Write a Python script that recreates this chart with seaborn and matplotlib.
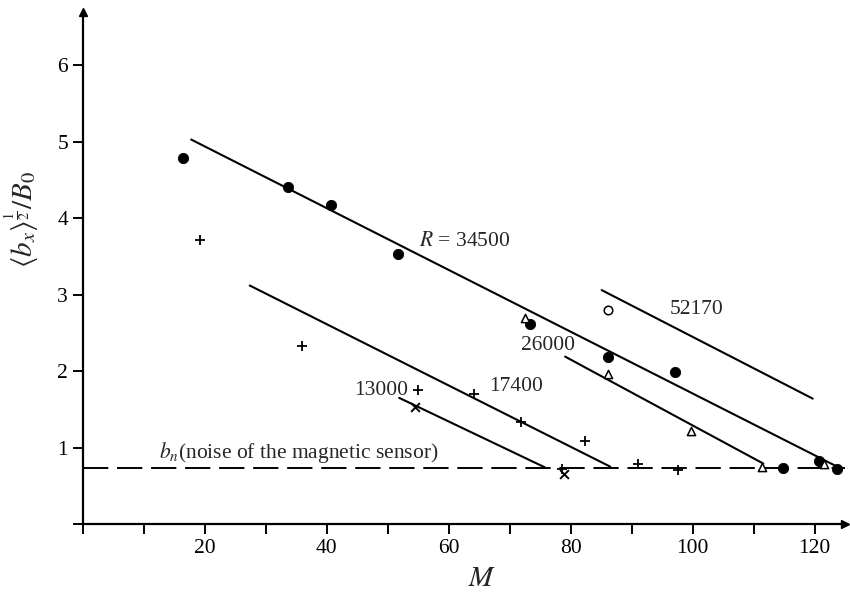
import numpy as np
import pandas as pd
import matplotlib
matplotlib.use("Agg")
import matplotlib.pyplot as plt
import seaborn as sns

# ==========================================
# Data
# ==========================================

# R = 34500 (filled circles)
m_34500 = [16.4, 33.7, 40.7, 51.7, 73.4, 86.2, 97.1, 114.8, 120.8, 123.6]
b_34500 = [4.79, 4.41, 4.18, 3.53, 2.61, 2.19, 1.99, 0.73, 0.82, 0.72]

# R = 17400 (plus signs)
m_17400 = [19.3, 35.9, 55.0, 64.1, 71.9, 82.3, 91.1, 97.6, 78.6]
b_17400 = [3.71, 2.33, 1.75, 1.70, 1.33, 1.09, 0.79, 0.71, 0.72]

# R = 13000 (crosses)
m_13000 = [54.5, 78.9]
b_13000 = [1.53, 0.66]

# R = 26000 (open triangles)
m_26000 = [72.6, 86.1, 99.8, 111.4, 121.5]
b_26000 = [2.70, 1.96, 1.22, 0.75, 0.79]

# R = 52170 (open circle)
m_52170 = [86.1]
b_52170 = [2.80]

# fitted lines (start, end)
fit_labels = ["34500", "17400", "13000", "26000", "52170"]
fit_m = [[17.8, 123.7], [27.4, 86.5], [51.9, 75.8], [79.1, 111.6], [85.1, 119.7]]
fit_b = [[5.03, 0.75], [3.12, 0.75], [1.65, 0.74], [2.19, 0.79], [3.06, 1.64]]

noise_level = 0.73

# ==========================================
# Style
# ==========================================

sns.set_style("ticks")
plt.rcParams["font.family"] = ["Liberation Serif", "DejaVu Serif"]
plt.rcParams["mathtext.fontset"] = "stix"

fig = plt.figure(figsize=(8.5, 5.92), dpi=100)
ax = fig.add_axes([0.0972, 0.1149, 0.897, 0.865])

# ==========================================
# Fitted lines
# ==========================================

for label, xs, ys in zip(fit_labels, fit_m, fit_b):
    line_df = pd.DataFrame({"M": xs, "b": ys})
    sns.lineplot(data=line_df, x="M", y="b", ax=ax, color="black",
                 linewidth=1.5, estimator=None, sort=False)

# noise level
ax.axhline(noise_level, color="black", linewidth=1.4,
           linestyle=(0, (13, 4.5)), clip_on=False)

# ==========================================
# Markers
# ==========================================

sns.scatterplot(x=m_34500, y=b_34500, ax=ax, marker="o", color="black",
                s=55, edgecolor="black", zorder=5)
sns.scatterplot(x=m_17400, y=b_17400, ax=ax, marker="+", color="black",
                s=45, linewidth=1.3, zorder=5)
sns.scatterplot(x=m_13000, y=b_13000, ax=ax, marker="x", color="black",
                s=40, linewidth=1.4, zorder=5)
sns.scatterplot(x=m_26000, y=b_26000, ax=ax, marker="^", facecolor="white",
                edgecolor="black", s=35, linewidth=1.1, zorder=5)
sns.scatterplot(x=m_52170, y=b_52170, ax=ax, marker="o", facecolor="white",
                edgecolor="black", s=38, linewidth=1.1, zorder=5)

# ==========================================
# Annotations
# ==========================================

ax.text(55.1, 3.70, r"$R$ = 34500", fontsize=15.5, va="center", ha="left")
ax.text(66.6, 1.80, "17400", fontsize=15.5, va="center", ha="left")
ax.text(44.5, 1.75, "13000", fontsize=15.5, va="center", ha="left")
ax.text(71.9, 2.33, "26000", fontsize=15.5, va="center", ha="left")
ax.text(96.3, 2.81, "52170", fontsize=15.5, va="center", ha="left")
ax.text(12.6, 0.93, r"$b_n$(noise of the magnetic sensor)", fontsize=15.5,
        va="center", ha="left")

# ==========================================
# Axes
# ==========================================

ax.set_xlim(0, 125)
ax.set_ylim(0, 6.7)

ax.set_xticks([0, 20, 40, 60, 80, 100, 120])
ax.set_xticklabels(["", "20", "40", "60", "80", "100", "120"])
ax.set_xticks([10, 30, 50, 70, 90, 110], minor=True)
ax.set_yticks([0, 1, 2, 3, 4, 5, 6])
ax.set_yticklabels(["", "1", "2", "3", "4", "5", "6"])

ax.tick_params(axis="both", which="both", direction="out", length=7,
               width=1.4, labelsize=15.5, color="black", labelcolor="black")

sns.despine(ax=ax)
for side in ["left", "bottom"]:
    ax.spines[side].set_linewidth(1.6)
    ax.spines[side].set_color("black")

# axis arrows
ax.plot(1, 0, ">", color="black", markersize=6, transform=ax.transAxes,
        clip_on=False)
ax.plot(0, 1, "^", color="black", markersize=6, transform=ax.transAxes,
        clip_on=False)

ax.set_xlabel(r"$M$", fontsize=21)
ax.xaxis.set_label_coords(0.524, -0.082)
ax.set_ylabel(r"$\langle b_x\rangle^{\frac{1}{2}}/B_0$", fontsize=21)
ax.yaxis.set_label_coords(-0.055, 0.595)

plt.savefig("out.png", dpi=100)
